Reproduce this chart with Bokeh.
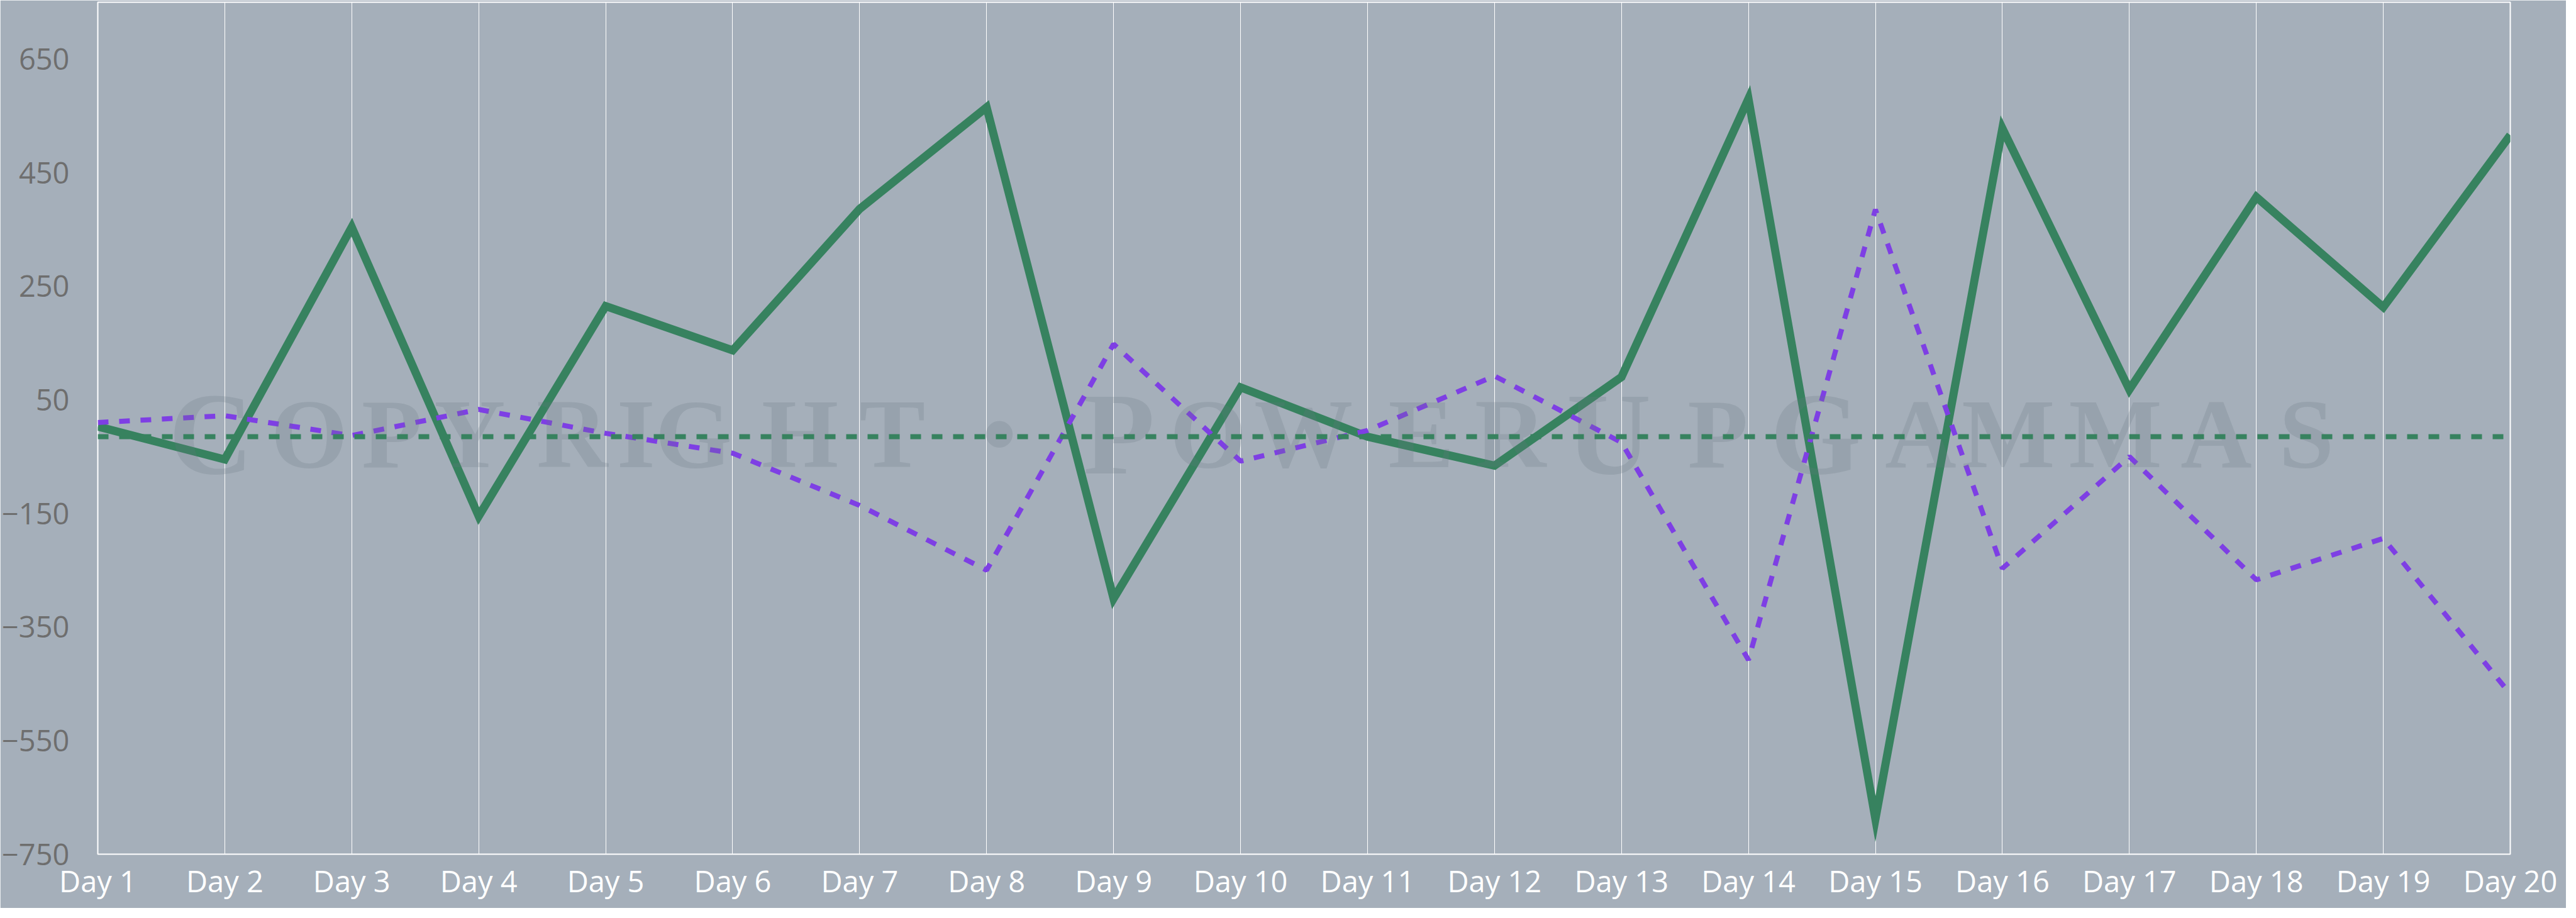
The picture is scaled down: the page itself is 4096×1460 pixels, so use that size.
from bokeh.plotting import figure
from bokeh.models import Range1d, FixedTicker, Span
from bokeh.embed import file_html
from bokeh.resources import INLINE
from bokeh.core.properties import value

# ---------------- data ----------------
days = ["Day 1", "Day 2", "Day 3", "Day 4", "Day 5", "Day 6", "Day 7", "Day 8", "Day 9", "Day 10",
        "Day 11", "Day 12", "Day 13", "Day 14", "Day 15", "Day 16", "Day 17", "Day 18", "Day 19", "Day 20"]
series_green = [3, -55, 354, -155, 215, 137, 386, 565, -300, 72,
                -15, -66, 90, 580, -688, 528, 68, 407, 213, 516]
series_purple = [10, 22, -13, 33, -9, -44, -136, -250, 148, -58,
                 -4, 92, -25, -408, 385, -247, -50, -267, -194, -468]
reference_level = -15
y_ticks = [-750, -550, -350, -150, 50, 250, 450, 650]
y_min, y_max = -750, 750

# watermark (small caps): characters, capital flags, centre positions in reference pixels
wm_chars = ["C", "O", "P", "Y", "R", "I", "G", "H", "T", "\u2022", "P", "O", "W", "E", "R",
            "U", "P", "G", "A", "M", "M", "A", "S"]
wm_capital = [1, 0, 0, 0, 0, 0, 0, 0, 0, 0, 1, 0, 0, 0, 0, 1, 0, 1, 0, 0, 0, 0, 0]
wm_center_ref = [413, 606, 768, 921, 1122, 1247, 1360, 1569, 1750, 1960, 2195, 2370, 2557, 2788,
                 2963, 3156, 3370, 3562, 3768, 3940, 4150, 4348, 4525]

GREEN = "#37825f"
PURPLE = "#7e3fe4"
BG = "#a5afba"

x = list(range(1, len(days) + 1))

p = figure(width=4080, height=1444,
           x_range=Range1d(1, len(days)), y_range=Range1d(y_min, y_max),
           output_backend="svg", toolbar_location=None,
           min_border_left=147, min_border_right=89, min_border_top=3, min_border_bottom=86)

p.background_fill_color = BG
p.border_fill_color = BG
p.outline_line_color = "white"
p.outline_line_width = 2

# axes
p.xaxis.ticker = FixedTicker(ticks=x)
p.xaxis.major_label_overrides = {i: d for i, d in zip(x, days)}
p.xaxis.axis_line_color = None
p.xaxis.major_tick_line_color = None
p.xaxis.minor_tick_line_color = None
p.xaxis.major_tick_out = 0
p.xaxis.major_tick_in = 0
p.xaxis.minor_tick_out = 0
p.xaxis.major_label_text_color = "white"
p.xaxis.major_label_text_font = "Open Sans"
p.xaxis.major_label_text_font_size = "47px"
p.xaxis.major_label_text_line_height = 1.0
p.xaxis.major_label_standoff = 10

p.yaxis.ticker = FixedTicker(ticks=y_ticks)
p.yaxis.axis_line_color = None
p.yaxis.major_tick_line_color = None
p.yaxis.minor_tick_line_color = None
p.yaxis.major_tick_out = 0
p.yaxis.major_tick_in = 0
p.yaxis.minor_tick_out = 0
p.yaxis.major_label_text_color = "#6e6e6e"
p.yaxis.major_label_text_font = "Open Sans"
p.yaxis.major_label_text_font_size = "47px"
p.yaxis.major_label_standoff = 45

p.xgrid.grid_line_color = "white"
p.xgrid.grid_line_width = 1
p.ygrid.grid_line_color = None

# series
p.line(x, series_green, line_color=GREEN, line_width=13, line_join="miter")
p.add_layout(Span(location=reference_level, dimension="width", line_color=GREEN,
                  line_width=8, line_dash="17 17"))
p.line(x, series_purple, line_color=PURPLE, line_width=8, line_dash="17 17")

# watermark
frame_left_ref, frame_right_ref = 191, 4925
day_w = (frame_right_ref - frame_left_ref) / (len(days) - 1)
wm_x = [1 + (c - frame_left_ref) / day_w for c in wm_center_ref]
wm_base = y_min + (1682 - 922) / (1669 / (y_max - y_min)) + 57
big_x = [wx for wx, b in zip(wm_x, wm_capital) if b]
big_t = [ch for ch, b in zip(wm_chars, wm_capital) if b]
sm_x = [wx for wx, b in zip(wm_x, wm_capital) if not b]
sm_t = [ch for ch, b in zip(wm_chars, wm_capital) if not b]
p.text(big_x, [wm_base] * len(big_x), text=big_t, text_font=value("Liberation Serif"),
       text_font_style="bold", text_font_size="186px", text_align="center",
       text_baseline="alphabetic", text_color="#6b7580", text_alpha=0.22)
p.text(sm_x, [wm_base] * len(sm_x), text=sm_t, text_font=value("Liberation Serif"),
       text_font_style="bold", text_font_size="157px", text_align="center",
       text_baseline="alphabetic", text_color="#6b7580", text_alpha=0.22)

open("out.html", "w").write(file_html(p, INLINE))
